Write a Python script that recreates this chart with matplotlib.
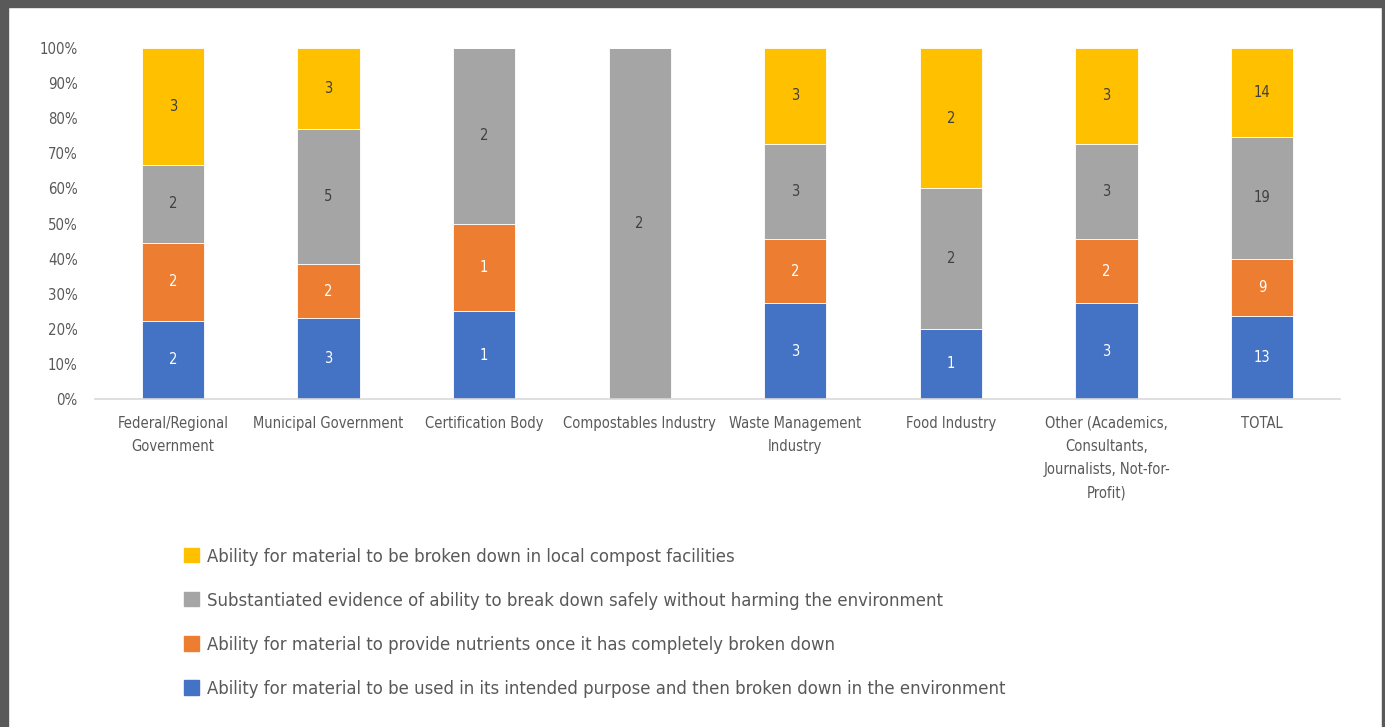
import matplotlib.pyplot as plt
import matplotlib.patches as mpatches
from matplotlib.ticker import PercentFormatter
import numpy as np

plt.rcParams['font.family'] = ['DejaVu Sans']
plt.rcParams['font.stretch'] = 'condensed'

categories = ['Federal/Regional\nGovernment', 'Municipal Government', 'Certification Body',
              'Compostables Industry', 'Waste Management\nIndustry', 'Food Industry',
              'Other (Academics,\nConsultants,\nJournalists, Not-for-\nProfit)', 'TOTAL']
used = [2, 3, 1, 0, 3, 1, 3, 13]
nutrients = [2, 2, 1, 0, 2, 0, 2, 9]
evidence = [2, 5, 2, 2, 3, 2, 3, 19]
local = [3, 3, 0, 0, 3, 2, 3, 14]

series = [
    ('Ability for material to be used in its intended purpose and then broken down in the environment', used, '#4472C4', 'white'),
    ('Ability for material to provide nutrients once it has completely broken down', nutrients, '#ED7D31', 'white'),
    ('Substantiated evidence of ability to break down safely without harming the environment', evidence, '#A5A5A5', '#404040'),
    ('Ability for material to be broken down in local compost facilities', local, '#FFC000', '#404040'),
]

text_col = '#595959'
totals = np.array(used) + np.array(nutrients) + np.array(evidence) + np.array(local)
x = np.arange(len(categories))

fig = plt.figure(figsize=(13.85, 7.27), dpi=100)
ax = fig.add_axes([95 / 1385, 1 - 399 / 727, (1340 - 95) / 1385, (399 - 48) / 727])

bottom = np.zeros(len(categories))
handles = []
for name, vals, col, lab_col in series:
    vals = np.array(vals)
    pct = vals / totals * 100
    ax.bar(x, pct, 0.4, bottom=bottom, color=col, edgecolor='white', linewidth=0.6, zorder=2)
    for i in range(len(x)):
        if vals[i] > 0:
            ax.text(x[i], bottom[i] + pct[i] / 2, str(vals[i]), ha='center', va='center',
                    color=lab_col, fontsize=10.5)
    bottom += pct
    handles.append(mpatches.Patch(color=col, label=name))

ax.set_xlim(-0.5, len(categories) - 0.5)
ax.set_ylim(0, 100)
ax.set_yticks(np.arange(0, 101, 10))
ax.yaxis.set_major_formatter(PercentFormatter(decimals=0))
ax.set_xticks(x)
ax.set_xticklabels(categories, fontsize=10.5, color=text_col, linespacing=1.7)
ax.tick_params(axis='y', labelsize=10.7, labelcolor=text_col, length=0, pad=12.5)
ax.tick_params(axis='x', length=0, pad=12)
for s in ['top', 'right', 'left']:
    ax.spines[s].set_visible(False)
ax.spines['bottom'].set_color('#D9D9D9')
ax.spines['bottom'].set_linewidth(1.2)

fig.legend(handles=handles[::-1], loc='upper left', bbox_to_anchor=(167 / 1385, 1 - 531 / 727),
           frameon=False, fontsize=13.2, labelcolor=text_col, handlelength=0.85, handleheight=0.85,
           handletextpad=0.45, labelspacing=1.42)

# dark frame around the screenshot
fig.patches.append(mpatches.Rectangle((0, 1 - 7 / 727), 1, 7 / 727, transform=fig.transFigure,
                                      color='#595959', zorder=10))
fig.patches.append(mpatches.Rectangle((0, 0), 8 / 1385, 1, transform=fig.transFigure,
                                      color='#595959', zorder=10))
fig.patches.append(mpatches.Rectangle((1 - 3 / 1385, 0), 3 / 1385, 1, transform=fig.transFigure,
                                      color='#595959', zorder=10))

fig.savefig('out.png', dpi=100)
